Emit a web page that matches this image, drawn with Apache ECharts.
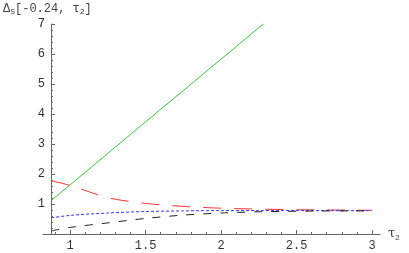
<!DOCTYPE html>
<html><head><meta charset="utf-8">
<script src="https://cdn.jsdelivr.net/npm/echarts@6/dist/echarts.min.js"></script>
<style>html,body{margin:0;padding:0;background:#fff}#c{width:409px;height:253px}</style>
</head><body><div id="c"></div>
<script>
// Data
const tau = [0.875, 1, 1.25, 1.5, 1.75, 2, 2.25, 2.5, 2.75, 3];
const redVals   = [1.77, 1.62, 1.21, 1.02, 0.92, 0.86, 0.83, 0.81, 0.80, 0.79];
const blueVals  = [0.54, 0.62, 0.70, 0.75, 0.77, 0.78, 0.78, 0.78, 0.78, 0.78];
const blackVals = [0.10, 0.22, 0.37, 0.52, 0.63, 0.70, 0.74, 0.76, 0.77, 0.77];
const greenTau  = [0.875, 1, 1.5, 2, 2.28];
const greenVals = [1.12, 1.64, 3.74, 5.83, 7.0];
const xMajorTicks = [1, 1.5, 2, 2.5, 3];
const xMinorTicks = [0.9,1.0,1.1,1.2,1.3,1.4,1.5,1.6,1.7,1.8,1.9,2.0,2.1,2.2,2.3,2.4,2.5,2.6,2.7,2.8,2.9,3.0];
const yTicks = [1, 2, 3, 4, 5, 6, 7];

const zip = (xs, ys) => xs.map((x, i) => [x, ys[i]]);
const mono = "'Liberation Mono', 'DejaVu Sans Mono', monospace";
const axisCol = '#666';

const chart = echarts.init(document.getElementById('c'));
chart.setOption({
  animation: false,
  grid: { left: 43, right: 29, top: 24, bottom: 19 },
  xAxis: [{
    type: 'value', min: 0.82, max: 3.053,
    axisLine: { lineStyle: { color: axisCol, width: 1 } },
    axisTick: { inside: true, length: 4, customValues: xMajorTicks, lineStyle: { color: axisCol } },
    axisLabel: { customValues: xMajorTicks, color: '#333', fontFamily: mono, fontSize: 12, margin: 6,
      formatter: v => String(v) },
    splitLine: { show: false },
    name: '{t|τ}{s|2}', nameLocation: 'end', nameGap: 8,
    nameTextStyle: { rich: { t: { fontSize: 13, color: '#444', fontFamily: 'DejaVu Serif' },
                             s: { fontSize: 8, color: '#444', verticalAlign: 'bottom', padding: [8,0,0,0] } },
                     verticalAlign: 'middle', padding: [0,0,0,0] }
  }, {
    type: 'value', min: 0.82, max: 3.053, position: 'bottom',
    axisLine: { show: false },
    axisTick: { inside: true, length: 2, customValues: xMinorTicks, lineStyle: { color: axisCol } },
    axisLabel: { show: false }, splitLine: { show: false }
  }],
  yAxis: {
    type: 'value', min: 0, max: 7, interval: 1, offset: -8,
    axisLine: { show: true, lineStyle: { color: axisCol, width: 1 } },
    axisTick: { show: true, inside: true, length: 4, lineStyle: { color: axisCol } },
    minorTick: { show: true, splitNumber: 5, length: 2, lineStyle: { color: axisCol } },
    axisLabel: { color: '#333', fontFamily: mono, fontSize: 12, margin: 6,
      formatter: v => (yTicks.includes(v) ? String(v) : '') },
    splitLine: { show: false }
  },
  graphic: [{
    type: 'text', left: 3, top: 3,
    style: {
      text: '{d|Δ}{s|S}{n|[-0.24, τ}{s|2}{n|]}',
      rich: {
        d: { fontSize: 12, fill: '#444', fontFamily: mono },
        n: { fontSize: 12, fill: '#444', fontFamily: mono },
        s: { fontSize: 8, fill: '#444', fontFamily: mono, padding: [6, 0, 0, 0] }
      }
    }
  }],
  series: [
    { type: 'line', data: zip(greenTau, greenVals), showSymbol: false, clip: true,
      lineStyle: { color: '#33cc33', width: 1 } },
    { type: 'line', data: zip(tau, redVals), showSymbol: false, smooth: 0.3,
      lineStyle: { color: '#ff3333', width: 1, type: [18, 13] } },
    { type: 'line', data: zip(tau, blueVals), showSymbol: false, smooth: 0.3,
      lineStyle: { color: '#3333ff', width: 1, type: [3, 2] } },
    { type: 'line', data: zip(tau, blackVals), showSymbol: false, smooth: 0.3,
      lineStyle: { color: '#222', width: 1, type: [8, 9] } }
  ]
});
</script></body></html>
